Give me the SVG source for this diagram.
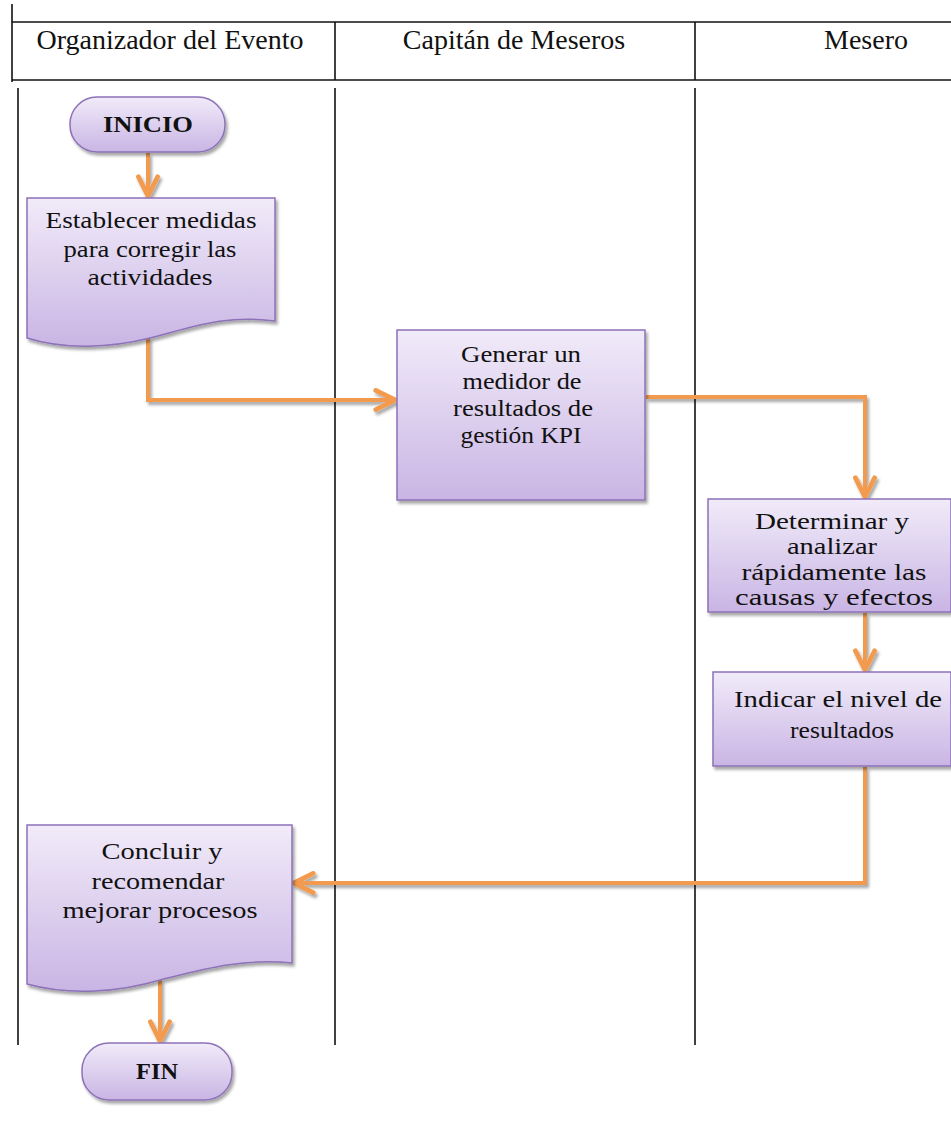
<svg xmlns="http://www.w3.org/2000/svg" width="951" height="1127" viewBox="0 0 951 1127">
<defs>
<linearGradient id="g" x1="0" y1="0" x2="0" y2="1">
<stop offset="0" stop-color="#f1ebf9"/>
<stop offset="1" stop-color="#c9b5e4"/>
</linearGradient>
<filter id="sh" filterUnits="userSpaceOnUse" x="0" y="0" width="951" height="1127">
<feDropShadow dx="2" dy="3" stdDeviation="1.5" flood-color="#000" flood-opacity="0.35"/>
</filter>
<marker id="arr" viewBox="0 0 10 10" refX="9" refY="5" markerWidth="6" markerHeight="6" orient="auto">
<path d="M1,1 L9,5 L1,9" fill="none" stroke="#f29b50" stroke-width="2" stroke-linecap="round" stroke-linejoin="round"/>
</marker>
</defs>
<style>
.ln{stroke:#111;stroke-width:1.6;fill:none}
.nd{fill:url(#g);stroke:#8d72b8;stroke-width:1.5;filter:url(#sh)}
text{font-family:'Liberation Serif','DejaVu Serif',serif;fill:#111;text-anchor:middle}
.t{font-size:23px}
.h{font-size:28px}
.b{font-weight:bold}
.c{fill:none;stroke:#f29b50;stroke-width:4;filter:url(#sh);marker-end:url(#arr)}
</style>
<g id="table">
<line class="ln" x1="12" y1="4" x2="12" y2="82"/>
<line class="ln" x1="12" y1="22" x2="951" y2="22"/>
<line class="ln" x1="12" y1="80" x2="951" y2="80"/>
<line class="ln" x1="335" y1="22" x2="335" y2="80"/>
<line class="ln" x1="695" y1="22" x2="695" y2="80"/>
<line class="ln" x1="18" y1="88" x2="18" y2="1045"/>
<line class="ln" x1="335" y1="88" x2="335" y2="1045"/>
<line class="ln" x1="695" y1="88" x2="695" y2="1045"/>
<text class="h" x="170" y="49">Organizador del Evento</text>
<text class="h" x="514" y="49">Capitán de Meseros</text>
<text class="h" x="866" y="49">Mesero</text>
</g>
<g id="connectors">
<path class="c" d="M148,153 V196"/>
<path class="c" d="M148,338 V400 H395"/>
<path class="c" d="M646,397 H865 V497"/>
<path class="c" d="M865,613 V670"/>
<path class="c" d="M865,767 V883 H294"/>
<path class="c" d="M160,980 V1041"/>
</g>
<g id="inicio">
<rect class="nd" x="70" y="97" width="155" height="55" rx="27"/>
<text class="t b" x="148" y="132" textLength="90" lengthAdjust="spacingAndGlyphs">INICIO</text>
</g>
<g id="establecer">
<path class="nd" d="M27,198 H275 V321 C225,314 190,328 150,338 C110,348 65,350 27,338 Z"/>
<text class="t" x="151" y="228" textLength="211" lengthAdjust="spacingAndGlyphs">Establecer medidas</text>
<text class="t" x="150" y="257" textLength="173" lengthAdjust="spacingAndGlyphs">para corregir las</text>
<text class="t" x="150" y="285" textLength="125" lengthAdjust="spacingAndGlyphs">actividades</text>
</g>
<g id="generar">
<rect class="nd" x="397" y="330" width="248" height="170"/>
<text class="t" x="521" y="362" textLength="120" lengthAdjust="spacingAndGlyphs">Generar un</text>
<text class="t" x="522" y="389" textLength="119" lengthAdjust="spacingAndGlyphs">medidor de</text>
<text class="t" x="523" y="416" textLength="140" lengthAdjust="spacingAndGlyphs">resultados de</text>
<text class="t" x="521" y="443" textLength="121" lengthAdjust="spacingAndGlyphs">gestión KPI</text>
</g>
<g id="determinar">
<rect class="nd" x="708" y="499" width="243" height="113"/>
<text class="t" x="832" y="529" textLength="154" lengthAdjust="spacingAndGlyphs">Determinar y</text>
<text class="t" x="832" y="554" textLength="90" lengthAdjust="spacingAndGlyphs">analizar</text>
<text class="t" x="834" y="580" textLength="185" lengthAdjust="spacingAndGlyphs">rápidamente las</text>
<text class="t" x="834" y="605" textLength="198" lengthAdjust="spacingAndGlyphs">causas y efectos</text>
</g>
<g id="indicar">
<rect class="nd" x="713" y="672" width="238" height="94"/>
<text class="t" x="838" y="707" textLength="208" lengthAdjust="spacingAndGlyphs">Indicar el nivel de</text>
<text class="t" x="842" y="738" textLength="104" lengthAdjust="spacingAndGlyphs">resultados</text>
</g>
<g id="concluir">
<path class="nd" d="M27,825 H292 V963 C240,958 200,970 160,980 C120,992 70,996 27,984 Z"/>
<text class="t" x="162" y="859" textLength="121" lengthAdjust="spacingAndGlyphs">Concluir y</text>
<text class="t" x="158" y="889" textLength="133" lengthAdjust="spacingAndGlyphs">recomendar</text>
<text class="t" x="160" y="918" textLength="195" lengthAdjust="spacingAndGlyphs">mejorar procesos</text>
</g>
<g id="fin">
<rect class="nd" x="82" y="1043" width="150" height="57" rx="27"/>
<text class="t b" x="157" y="1079" textLength="42" lengthAdjust="spacingAndGlyphs">FIN</text>
</g>
</svg>
